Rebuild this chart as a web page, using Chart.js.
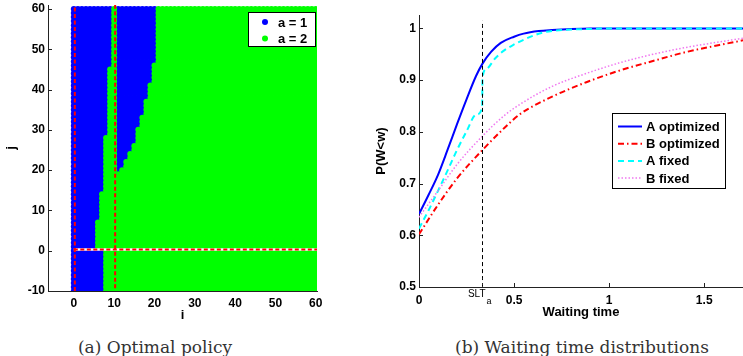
<!DOCTYPE html>
<html>
<head>
<meta charset="utf-8">
<script src="https://cdn.jsdelivr.net/npm/chart.js@4.4.0/dist/chart.umd.min.js"></script>
<style>
  html, body { margin: 0; padding: 0; background: #fff; }
  body { width: 743px; height: 356px; position: relative; overflow: hidden; }
  canvas { position: absolute; top: 0; }
  #policy { left: 0; }
  #waiting { left: 370px; }
  .caption {
    position: absolute; top: 337px; line-height: 20px;
    font-family: "DejaVu Serif", serif; font-size: 17px; color: #333;
    white-space: nowrap; transform: translateX(-50%);
  }
</style>
</head>
<body>
<canvas id="policy" width="330" height="327"></canvas>
<canvas id="waiting" width="373" height="324"></canvas>
<div class="caption" style="left:155px">(a) Optimal policy</div>
<div class="caption" style="left:582px">(b) Waiting time distributions</div>
<script>
const iMin = 0, iMax = 60;
const jMin = -10, jMax = 60;
// first block of a = 1: columns 0..end, per band of rows (band starts at row j)
const firstBandRows = [-10, 1, 8, 15, 29, 46];
const firstBandEnd = [7, 5, 6, 7, 8, 9];
// second block of a = 1: columns 11..end, only for rows >= 20
const secondBandStart = 11;
const secondBandRows = [20, 21, 23, 25, 27, 31, 34, 38, 42, 47];
const secondBandEnd = [11, 12, 13, 14, 15, 16, 17, 18, 19, 20];
// red dashed reference lines
const refI = [0.25, 10.25];
const refJ = 0.3;

// ---- (b) waiting time distributions ----
const timeAOpt = [0, 0.05, 0.1, 0.15, 0.2, 0.25, 0.3, 0.334, 0.38, 0.43, 0.5, 0.55, 0.63, 0.7, 0.8, 0.9, 1.0, 1.2, 1.4, 1.704];
const probAOpt = [0.641, 0.678, 0.717, 0.765, 0.815, 0.863, 0.908, 0.932, 0.955, 0.972, 0.984, 0.99, 0.995, 0.997, 0.999, 1.0, 1.0, 1.0, 1.0, 1.0];
const timeBOpt = [0, 0.1, 0.2, 0.334, 0.45, 0.53, 0.7, 0.88, 1.05, 1.23, 1.4, 1.58, 1.704];
const probBOpt = [0.602, 0.659, 0.71, 0.765, 0.808, 0.834, 0.868, 0.896, 0.918, 0.937, 0.954, 0.968, 0.977];
const timeAFix = [0, 0.05, 0.1, 0.15, 0.2, 0.25, 0.3, 0.332, 0.334, 0.355, 0.4, 0.45, 0.5, 0.55, 0.6, 0.65, 0.7, 0.8, 0.9, 1.0, 1.2, 1.4, 1.704];
const probAFix = [0.613, 0.648, 0.686, 0.725, 0.765, 0.801, 0.833, 0.846, 0.905, 0.922, 0.942, 0.958, 0.969, 0.978, 0.986, 0.992, 0.995, 0.998, 0.999, 1.0, 1.0, 1.0, 1.0];
const timeBFix = [0, 0.1, 0.2, 0.334, 0.45, 0.53, 0.7, 0.88, 1.05, 1.23, 1.4, 1.58, 1.704];
const probBFix = [0.635, 0.686, 0.737, 0.792, 0.832, 0.853, 0.888, 0.913, 0.933, 0.95, 0.963, 0.974, 0.981];
const sltValue = 0.334;
const sltTop = 1.015;

const FONT = '"Liberation Sans", Arial, sans-serif';

function bandValue(rows, ends, j) {
  let v = null;
  rows.forEach((r, k) => { if (j >= r) v = ends[k]; });
  return v;
}

const blueDots = [], greenDots = [];
for (let j = jMin; j <= jMax; j++) {
  const end1 = bandValue(firstBandRows, firstBandEnd, j);
  const end2 = bandValue(secondBandRows, secondBandEnd, j);
  for (let i = iMin; i <= iMax; i++) {
    const isBlue = i <= end1 || (end2 !== null && i >= secondBandStart && i <= end2);
    (isBlue ? blueDots : greenDots).push({ x: i, y: j });
  }
}

const toPoints = (xs, ys) => xs.map((x, k) => ({ x, y: ys[k] }));

// legend drawn as a framed box inside the plot
const boxLegend = {
  id: 'boxLegend',
  afterDraw(chart, args, opts) {
    const ctx = chart.ctx;
    const items = chart.data.datasets.filter(d => d.label);
    ctx.save();
    ctx.fillStyle = '#fff';
    ctx.fillRect(opts.x, opts.y, opts.w, opts.h);
    ctx.strokeStyle = '#000';
    ctx.lineWidth = 1;
    ctx.strokeRect(opts.x + 0.5, opts.y + 0.5, opts.w, opts.h);
    ctx.font = 'bold 13px ' + FONT;
    ctx.textBaseline = 'middle';
    items.forEach((d, k) => {
      const cy = opts.y + opts.firstRow + k * opts.rowH;
      if (opts.kind === 'point') {
        ctx.fillStyle = d.backgroundColor;
        ctx.beginPath();
        ctx.arc(opts.sampleX, cy, 3, 0, Math.PI * 2);
        ctx.fill();
      } else {
        ctx.strokeStyle = d.borderColor;
        ctx.lineWidth = d.borderWidth;
        ctx.setLineDash(d.borderDash || []);
        ctx.beginPath();
        ctx.moveTo(opts.sampleX, cy);
        ctx.lineTo(opts.sampleX + opts.sampleW, cy);
        ctx.stroke();
        ctx.setLineDash([]);
      }
      ctx.fillStyle = '#000';
      ctx.fillText(d.label, opts.textX, cy + 1);
    });
    ctx.restore();
  }
};

// matlab style ticks pointing into the plot
const innerTicks = {
  id: 'innerTicks',
  beforeDatasetsDraw(chart) {
    const { ctx, chartArea, scales } = chart;
    ctx.save();
    ctx.strokeStyle = '#222';
    ctx.lineWidth = 1;
    scales.x.ticks.forEach(t => {
      const px = Math.round(scales.x.getPixelForValue(t.value)) + 0.5;
      ctx.beginPath();
      ctx.moveTo(px, chartArea.bottom);
      ctx.lineTo(px, chartArea.bottom - 4);
      ctx.stroke();
    });
    scales.y.ticks.forEach(t => {
      const py = Math.round(scales.y.getPixelForValue(t.value)) + 0.5;
      ctx.beginPath();
      ctx.moveTo(chartArea.left, py);
      ctx.lineTo(chartArea.left + 4, py);
      ctx.stroke();
    });
    ctx.restore();
  }
};

const sltLabel = {
  id: 'sltLabel',
  afterDraw(chart) {
    const { ctx, chartArea, scales } = chart;
    const px = scales.x.getPixelForValue(sltValue);
    ctx.save();
    ctx.fillStyle = '#000';
    ctx.textBaseline = 'middle';
    ctx.font = '10px ' + FONT;
    ctx.textAlign = 'right';
    ctx.fillText('SLT', px + 3, chartArea.bottom + 7);
    ctx.font = '9px ' + FONT;
    ctx.textAlign = 'left';
    ctx.fillText('a', px + 4, chartArea.bottom + 15);
    ctx.restore();
  }
};

const fmt = v => String(+v.toFixed(1));

function axis(min, max, step, title, fit, pad) {
  return {
    type: 'linear', min, max,
    grid: { display: false, drawTicks: false },
    border: { display: true, color: '#222', width: 1 },
    ticks: { stepSize: step, includeBounds: false, autoSkip: false, color: '#000', maxRotation: 0,
             padding: pad, callback: fmt,
             font: { family: FONT, size: 12, weight: 'bold' } },
    title: { display: true, text: title, color: '#000', padding: 4,
             font: { family: FONT, size: 13, weight: 'bold' } },
    afterFit: s => {
      fit(s);
      s.paddingTop = 0; s.paddingBottom = 0; s.paddingLeft = 0; s.paddingRight = 0;
    }
  };
}

Chart.defaults.animation = false;

new Chart(document.getElementById('policy'), {
  type: 'scatter',
  data: {
    datasets: [
      { label: 'a = 1', data: blueDots, backgroundColor: 'rgb(0,0,255)', borderWidth: 0, pointRadius: 3, order: 4 },
      { label: 'a = 2', data: greenDots, backgroundColor: 'rgb(0,255,0)', borderWidth: 0, pointRadius: 3, order: 3 },
      { data: [{ x: iMin, y: refJ }, { x: 60.3, y: refJ }], showLine: true, borderColor: '#fff', borderWidth: 2.5, pointRadius: 0, order: 2 },
      { data: [{ x: iMin, y: refJ }, { x: 60.3, y: refJ }], showLine: true, borderColor: 'rgb(255,0,0)', borderWidth: 2, borderDash: [4, 2.5], pointRadius: 0, order: 1 },
      { data: [{ x: refI[0], y: jMin }, { x: refI[0], y: 61 }], showLine: true, borderColor: 'rgb(255,0,0)', borderWidth: 2, borderDash: [4, 2.5], pointRadius: 0, order: 1 },
      { data: [{ x: refI[1], y: -9.3 }, { x: refI[1], y: 61 }], showLine: true, borderColor: 'rgb(255,0,0)', borderWidth: 2, borderDash: [4, 2.5], pointRadius: 0, order: 1 }
    ]
  },
  options: {
    responsive: false,
    events: [],
    layout: { padding: { top: 5, right: 13, left: 0, bottom: 0 } },
    scales: {
      x: axis(-6.4, 60.3, 10, 'i', s => { s.height = 36; }, 5),
      y: axis(jMin, 61, 10, 'j', s => { s.width = 48; }, 3)
    },
    plugins: {
      legend: { display: false },
      tooltip: { enabled: false },
      boxLegend: { kind: 'point', x: 248, y: 12, w: 67, h: 34, firstRow: 10, rowH: 16.5, sampleX: 265, textX: 278 }
    }
  },
  plugins: [innerTicks, boxLegend]
});

const lineBase = { showLine: true, pointRadius: 0, fill: false, cubicInterpolationMode: 'monotone' };

new Chart(document.getElementById('waiting'), {
  type: 'scatter',
  data: {
    datasets: [
      Object.assign({ label: 'A optimized', data: toPoints(timeAOpt, probAOpt), borderColor: 'rgb(0,0,255)', borderWidth: 2, order: 5 }, lineBase),
      Object.assign({ label: 'B optimized', data: toPoints(timeBOpt, probBOpt), borderColor: 'rgb(255,0,0)', borderWidth: 2, borderDash: [6, 3, 1.5, 3], order: 4 }, lineBase),
      Object.assign({ label: 'A fixed', data: toPoints(timeAFix, probAFix), borderColor: 'rgb(0,255,255)', borderWidth: 2, borderDash: [6, 4], order: 3 }, lineBase),
      Object.assign({ label: 'B fixed', data: toPoints(timeBFix, probBFix), borderColor: 'rgb(240,120,240)', borderWidth: 1.5, borderDash: [1.5, 2], order: 2 }, lineBase),
      Object.assign({ data: [{ x: sltValue, y: 0.5 }, { x: sltValue, y: sltTop }], borderColor: '#000', borderWidth: 1, borderDash: [4, 3], order: 1 }, lineBase)
    ]
  },
  options: {
    responsive: false,
    events: [],
    layout: { padding: { top: 15, right: 0, left: 0, bottom: 0 } },
    scales: {
      x: axis(0, 1.704, 0.5, 'Waiting time', s => { s.height = 37; }, 6),
      y: axis(0.5, 1.026, 0.1, 'P(W<w)', s => { s.width = 49; }, 3)
    },
    plugins: {
      legend: { display: false },
      tooltip: { enabled: false },
      boxLegend: { kind: 'line', x: 242, y: 113, w: 113, h: 75, firstRow: 13.5, rowH: 17.2, sampleX: 248, sampleW: 24, textX: 276 }
    }
  },
  plugins: [innerTicks, boxLegend, sltLabel]
});
</script>
</body>
</html>
